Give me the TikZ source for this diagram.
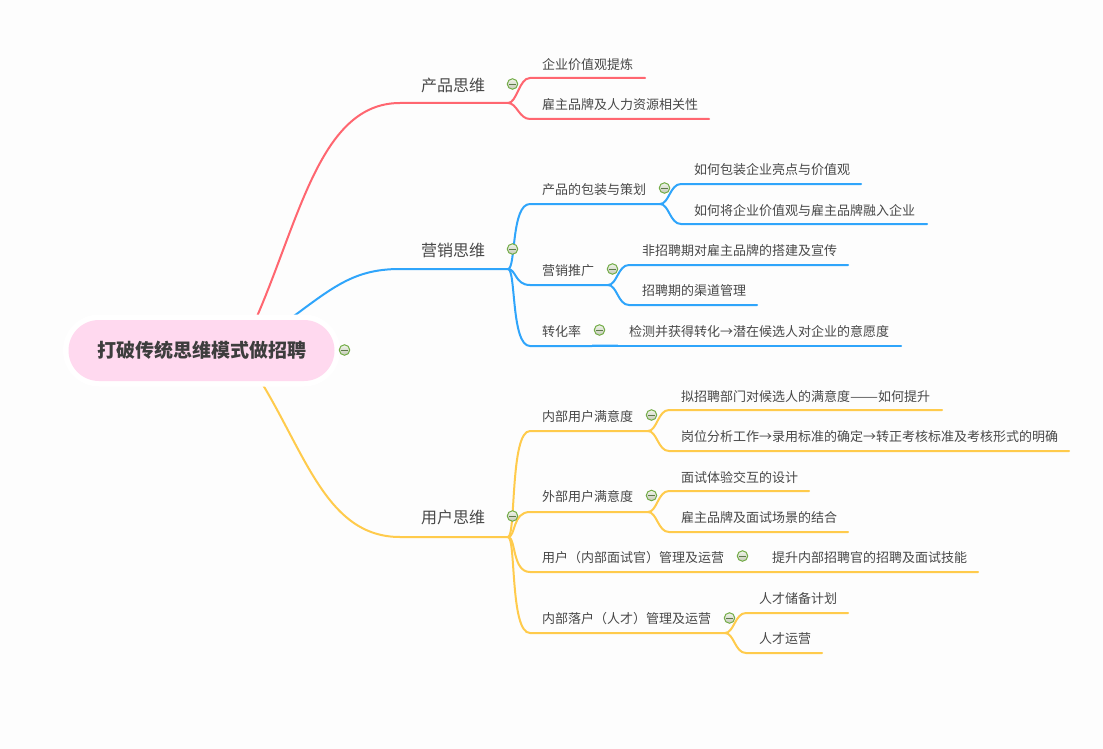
\documentclass[tikz,border=0pt]{standalone}
\usepackage{fontspec}
\usepackage{graphicx}
\setmainfont{Noto Sans CJK SC}
\usetikzlibrary{backgrounds,shapes.misc}
\definecolor{bgc}{HTML}{FDFDFD}
\definecolor{rd}{HTML}{FF6670}
\definecolor{bl}{HTML}{2FA5FB}
\definecolor{yl}{HTML}{FFCB4C}
\definecolor{tx}{HTML}{484848}
\definecolor{rootpink}{HTML}{FFD9EF}
\definecolor{icong}{HTML}{73AC47}
\definecolor{icond}{HTML}{5E7A4A}
\definecolor{icont}{HTML}{F0F5EA}
\definecolor{iconb}{HTML}{C4C8B8}
\tikzset{
  conn/.style={line width=2pt,line cap=round},
  rootbox/.style={rounded rectangle,fill=rootpink,minimum width=266pt,minimum height=61pt,inner sep=0pt,outer sep=0pt,
     preaction={draw=white,line width=11pt},font=\bfseries\fontsize{19}{19}\selectfont,text=tx!85!black},
  cat/.style={anchor=base west,inner sep=0pt,yshift=-1pt,font=\fontsize{16}{16}\selectfont,text=tx},
  lab/.style={anchor=base west,inner sep=0pt,yshift=-1pt,font=\fontsize{13}{13}\selectfont,text=tx},
  fold/.style={circle,draw=icong,line width=1pt,minimum size=10.5pt,inner sep=0pt,top color=icont,bottom color=iconb,
     path picture={\draw[icond,line width=0.7pt] (path picture bounding box.west)++(2.2pt,0pt) -- ++(6.5pt,0pt);}},
}
% hub, name, flat start x, flat end x, y, colour
\newcommand{\limb}[6]{%
  \coordinate (#2a) at (#3,#5);
  \coordinate (#2b) at (#4,#5);
  \draw[conn,#6] (#1) .. controls +(9,0) and +(-11,0) .. (#2a) -- (#2b);}
\begin{document}
\begin{tikzpicture}[x=1pt,y=-1pt]
\useasboundingbox (0,0) rectangle (1103,749);
\begin{scope}[on background layer]
  \fill[bgc] (0,0) rectangle (1103,749);
\end{scope}

% ---- red: 产品思维
\coordinate (rootR) at (251,330);
\coordinate (rootB) at (275,330);
\coordinate (rootY) at (255,372);
\coordinate (hubR) at (508,103);
\coordinate (hubB) at (508,269);
\coordinate (hubY) at (508,537);
\draw[conn,rd] (rootR) .. controls (299,225) and (318,103) .. (400,103) -- (hubR);
\limb{hubR}{ra}{530}{645}{78}{rd}
\limb{hubR}{rb}{530}{709}{119}{rd}

% ---- blue: 营销思维
\draw[conn,bl] (rootB) .. controls (330,290) and (350,269) .. (400,269) -- (hubB);
\coordinate (ba) at (530,204);
\coordinate (bah) at (660,204);
\coordinate (bb) at (530,285);
\coordinate (bbh) at (608,285);
\coordinate (bc) at (530,346);
\coordinate (bch) at (592,346);
\draw[conn,bl] (hubB) .. controls (516,269) and (511,204) .. (ba) -- (bah);
\draw[conn,bl] (hubB) .. controls (516,269) and (515,285) .. (bb) -- (bbh);
\draw[conn,bl] (hubB) .. controls (516,269) and (511,346) .. (bc) -- (bch);
\limb{bah}{baa}{681}{861}{184}{bl}
\limb{bah}{bab}{681}{927}{224}{bl}
\limb{bbh}{bba}{629}{848}{265}{bl}
\limb{bbh}{bbb}{629}{757}{305}{bl}
\coordinate (bcx) at (901,346);
\draw[conn,bl] (bch) -- (bcx);
\coordinate (bsa) at (592,344.5);
\coordinate (bsb) at (618,344.5);
\draw[line width=0.8pt,bl!35] (bsa) -- (bsb);

% ---- yellow: 用户思维
\draw[conn,yl] (rootY) .. controls (305,450) and (325,537) .. (400,537) -- (hubY);
\coordinate (ya) at (530,431);
\coordinate (yah) at (648,431);
\coordinate (yb) at (530,512);
\coordinate (ybh) at (648,512);
\coordinate (yc) at (530,572);
\coordinate (ycx) at (978,572);
\coordinate (yd) at (530,633);
\coordinate (ydh) at (725,633);
\draw[conn,yl] (hubY) .. controls (516,537) and (510,431) .. (ya) -- (yah);
\draw[conn,yl] (hubY) .. controls (516,537) and (512,512) .. (yb) -- (ybh);
\draw[conn,yl] (hubY) .. controls (516,537) and (512,572) .. (yc) -- (ycx);
\draw[conn,yl] (hubY) .. controls (516,537) and (510,633) .. (yd) -- (ydh);
\limb{yah}{yaa}{669}{942}{410}{yl}
\limb{yah}{yab}{669}{1069}{451}{yl}
\limb{ybh}{yba}{669}{809}{491}{yl}
\limb{ybh}{ybb}{669}{848}{532}{yl}
\limb{ydh}{yda}{746}{848}{613}{yl}
\limb{ydh}{ydb}{746}{822}{653}{yl}

% ---- root
\node[rootbox] (root) at (201.5,350.5) {打破传统思维模式做招聘};
\node[fold] (froot) at (344.5,350) {};

% ---- first level
\node[cat] (c1) at (421,90.5) {产品思维};
\node[cat] (c2) at (421,255.5) {营销思维};
\node[cat] (c3) at (421,522) {用户思维};
\node[fold] (fc1) at (512.5,84) {};
\node[fold] (fc2) at (512.5,249) {};
\node[fold] (fc3) at (512.5,516) {};

% ---- red labels
\node[lab] (t1) at (542,68.5) {企业价值观提炼};
\node[lab] (t2) at (542,108.5) {雇主品牌及人力资源相关性};

% ---- blue labels
\node[lab] (t3) at (542,193.5) {产品的包装与策划};
\node[fold] (f3) at (664.5,188) {};
\node[lab] (t4) at (694,173.5) {如何包装企业亮点与价值观};
\node[lab] (t5) at (694,214.5) {如何将企业价值观与雇主品牌融入企业};
\node[lab] (t6) at (542,274.5) {营销推广};
\node[fold] (f6) at (612.5,269) {};
\node[lab] (t7) at (642,254.5) {非招聘期对雇主品牌的搭建及宣传};
\node[lab] (t8) at (642,294.5) {招聘期的渠道管理};
\node[lab] (t9) at (542,335.5) {转化率};
\node[fold] (f9) at (599.5,330) {};
\node[lab] (t10) at (629,335.5) {检测并获得转化→潜在候选人对企业的意愿度};

% ---- yellow labels
\node[lab] (t11) at (542,420) {内部用户满意度};
\node[fold] (f11) at (651.5,415) {};
\node[lab] (t12) at (681,400) {拟招聘部门对候选人的满意度\resizebox{28pt}{\height}{——}如何提升};
\node[lab] (t13) at (681,440.5) {岗位分析工作→录用标准的确定→转正考核标准及考核形式的明确};
\node[lab] (t14) at (542,500.5) {外部用户满意度};
\node[fold] (f14) at (651.5,495.5) {};
\node[lab] (t15) at (681,481.5) {面试体验交互的设计};
\node[lab] (t16) at (681,521.5) {雇主品牌及面试场景的结合};
\node[lab] (t17) at (542,561.5) {用户（内部面试官）管理及运营};
\node[fold] (f17) at (742.5,556) {};
\node[lab] (t18) at (772,561.5) {提升内部招聘官的招聘及面试技能};
\node[lab] (t19) at (542,622.5) {内部落户（人才）管理及运营};
\node[fold] (f19) at (729.5,618) {};
\node[lab] (t20) at (759,602.5) {人才储备计划};
\node[lab] (t21) at (759,642.5) {人才运营};
\end{tikzpicture}
\end{document}
